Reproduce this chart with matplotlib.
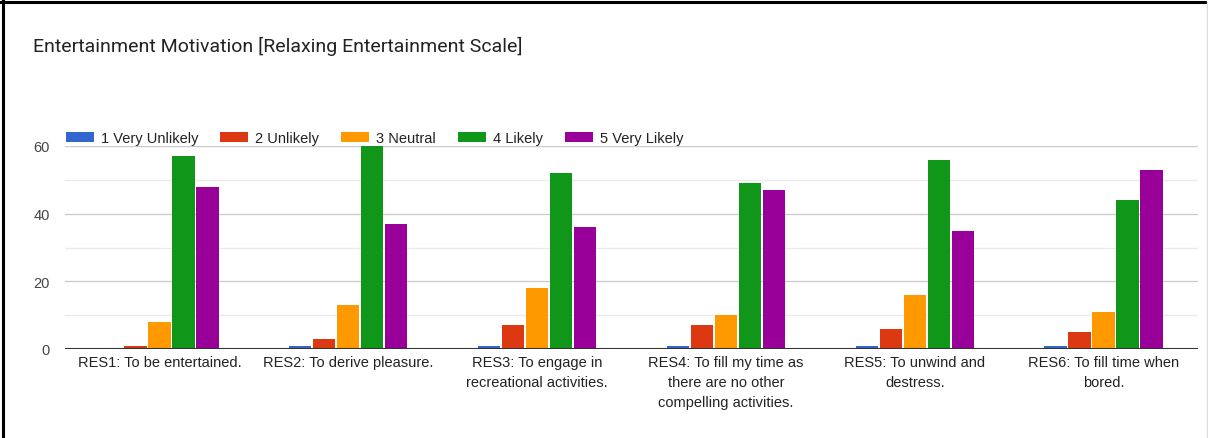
import numpy as np
import matplotlib
matplotlib.use("Agg")
import matplotlib.pyplot as plt
from matplotlib.lines import Line2D

# --- data ---
categories = [
    "RES1: To be entertained.",
    "RES2: To derive pleasure.",
    "RES3: To engage in\nrecreational activities.",
    "RES4: To fill my time as\nthere are no other\ncompelling activities.",
    "RES5: To unwind and\ndestress.",
    "RES6: To fill time when\nbored.",
]
series_names = ["1 Very Unlikely", "2 Unlikely", "3 Neutral", "4 Likely", "5 Very Likely"]
very_unlikely = [0, 1, 1, 1, 1, 1]
unlikely = [1, 3, 7, 7, 6, 5]
neutral = [8, 13, 18, 10, 16, 11]
likely = [57, 60, 52, 49, 56, 44]
very_likely = [48, 37, 36, 47, 35, 53]
colors = ["#3366cc", "#dc3912", "#ff9900", "#109618", "#990099"]

W, H = 1208, 439
fs = 10.5
fig = plt.figure(figsize=(W / 100, H / 100), dpi=100)
ax = fig.add_axes([65 / W, 1 - 350 / H, (1198 - 65) / W, (350 - 147) / H])

x = np.arange(len(categories))
all_series = [very_unlikely, unlikely, neutral, likely, very_likely]
for i, (vals, name, col) in enumerate(zip(all_series, series_names, colors)):
    ax.bar(x + (i - 2) * 0.127, vals, width=0.118, color=col, label=name,
           linewidth=0, zorder=3)

ax.set_xlim(-0.5, len(categories) - 0.5)
ax.set_ylim(0, 60)

# gridlines: darker every 20, lighter in between
for v in [10, 30, 50]:
    ax.axhline(v, color="#ebebeb", lw=1, zorder=1)
for v in [20, 40, 60]:
    ax.axhline(v, color="#cccccc", lw=1, zorder=1)
ax.axhline(0, color="#333333", lw=1.5, zorder=4)

for s in ax.spines.values():
    s.set_visible(False)

ax.set_yticks([0, 20, 40, 60])
ax.set_yticklabels(["0", "20", "40", "60"], fontsize=fs, color="#444444",
                   family="Liberation Sans")
ax.tick_params(axis="y", length=0, pad=11)
ax.set_xticks(x)
ax.set_xticklabels(categories, fontsize=fs, color="#222222",
                   family="Liberation Sans", linespacing=1.56, va="top")
ax.tick_params(axis="x", length=0, pad=4)

leg = ax.legend(loc="lower left", bbox_to_anchor=(66 / W, 1 - 146 / H),
                bbox_transform=fig.transFigure, ncol=5, frameon=False,
                prop={"family": "Liberation Sans", "size": fs},
                handlelength=1.92, handleheight=0.68, handletextpad=0.48,
                columnspacing=1.5, borderpad=0, borderaxespad=0)
for t in leg.get_texts():
    t.set_color("#222222")

fig.text(33 / W, 1 - 46 / H, "Entertainment Motivation [Relaxing Entertainment Scale]",
         fontsize=14, family="Roboto", color="#222222", va="center", ha="left")

# frame around the card
fig.add_artist(Line2D([0, 1205 / W], [1 - 2.5 / H] * 2, transform=fig.transFigure,
                      color="black", lw=2.2))
fig.add_artist(Line2D([2.5 / W] * 2, [0, 1 - 1.5 / H], transform=fig.transFigure,
                      color="black", lw=2.2))
fig.add_artist(Line2D([1207 / W] * 2, [0, 1 - 3 / H], transform=fig.transFigure,
                      color="#dddddd", lw=1))

fig.savefig("out.png", dpi=100)
